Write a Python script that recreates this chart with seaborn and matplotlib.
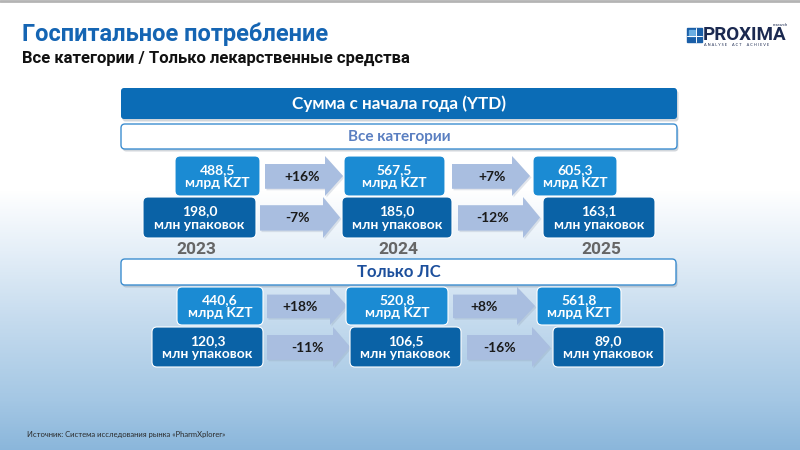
import numpy as np
import matplotlib
matplotlib.use("Agg")
import matplotlib.pyplot as plt
from matplotlib.patches import FancyBboxPatch, Polygon, Rectangle
import seaborn as sns

# ---------------- data ----------------
years = ["2023", "2024", "2025"]
all_kzt = [488.5, 567.5, 605.3]          # млрд KZT
all_packs = [198.0, 185.0, 163.1]        # млн упаковок
all_kzt_chg = ["+16%", "+7%"]
all_packs_chg = ["-7%", "-12%"]
ls_kzt = [440.6, 520.8, 561.8]
ls_packs = [120.3, 106.5, 89.0]
ls_kzt_chg = ["+18%", "+8%"]
ls_packs_chg = ["-11%", "-16%"]

title = "Госпитальное потребление"
subtitle = "Все категории / Только лекарственные средства"
banner = "Сумма с начала года (YTD)"
section_all = "Все категории"
section_ls = "Только ЛС"
unit_kzt = "млрд KZT"
unit_packs = "млн упаковок"
source = "Источник: Система исследования рынка «PharmXplorer»"

# ---------------- layout (pixels) ----------------
row_boxes = [
    [(175, 260), (344, 445), (533, 617)],
    [(143, 256), (342, 452), (543, 655)],
    [(177, 263), (346, 448), (537, 621)],
    [(152, 263), (350, 461), (553, 664)],
]
row_y = [(156, 196), (197, 238), (287, 325), (327, 367)]
# arrows: x0, xbase, tip, label_x
row_arrows = [
    [(265, 325, 343, 302), (452, 512, 530, 492)],
    [(260, 323, 340, 298), (458, 523, 540, 493)],
    [(267, 330, 347, 300), (453, 517, 535, 484)],
    [(267, 333, 350, 307), (467, 532, 550, 500)],
]
year_x = [196, 398, 601]

KZT_COL = "#1b8bd3"
PACK_COL = "#0a62a6"
ARROW_COL = "#a9bee0"
BANNER_COL = "#0b6cb6"

sns.set_theme(style="white")
NARROW = ["Liberation Sans Narrow", "Roboto", "DejaVu Sans"]
BOXF = ["Lato", "Roboto", "DejaVu Sans"]
plt.rcParams["font.family"] = BOXF

fig = plt.figure(figsize=(8, 4.5), dpi=100)
ax = fig.add_axes([0, 0, 1, 1])
ax.set_xlim(0, 800)
ax.set_ylim(450, 0)
ax.axis("off")

# background gradient
stops_y = [0, 190, 250, 320, 400, 450]
stops_c = ["#ffffff", "#ffffff", "#e5eff8", "#c5dbee", "#a4c7e4", "#8ab6db"]
rgb = np.array([matplotlib.colors.to_rgb(c) for c in stops_c])
yy = np.arange(450)
grad = np.stack([np.interp(yy, stops_y, rgb[:, k]) for k in range(3)], axis=1)
img = np.repeat(grad[:, None, :], 2, axis=1)
ax.imshow(img, extent=[0, 800, 450, 0], aspect="auto", zorder=0)
ax.plot([0, 800], [1, 1], color="#b4b4b4", lw=2, zorder=1)

# header
ax.text(22, 34, title, fontsize=17, fontweight="bold", color="#1565b3",
        family=NARROW, va="center", ha="left")
ax.text(22, 58, subtitle, fontsize=12, fontweight="bold", color="#111111",
        family=NARROW, va="center", ha="left")

# logo
ax.add_patch(Rectangle((687, 28), 15, 14, color="#1a5fa8", zorder=3))
ax.add_patch(Rectangle((688.5, 29.5), 6, 6, color="#6aaee2", zorder=4))
ax.plot([695.5, 695.5], [28, 42], color="white", lw=0.7, zorder=5)
ax.plot([687, 702], [35.5, 35.5], color="white", lw=0.7, zorder=5)
ax.text(703, 35.5, "PROXIMA", fontsize=13.5, fontweight="bold", color="#1b2950",
        family=NARROW, va="center", ha="left")
ax.text(788, 24.5, "research", fontsize=3, color="#1b2950", va="center", ha="right")
ax.text(737, 45.5, "A N A L Y S E     A C T     A C H I E V E", fontsize=2.8,
        color="#1b2950", va="center", ha="center")


def rbox(x0, x1, y0, y1, fc, ec="none", lw=0, r=4, z=3, shadow=False):
    if shadow:
        ax.add_patch(FancyBboxPatch((x0 + 1.5, y0 + 2.5), x1 - x0, y1 - y0,
                                    boxstyle=f"round,pad=0,rounding_size={r}",
                                    fc="#7d8a99", ec="none", alpha=0.35, zorder=z - 0.5))
    ax.add_patch(FancyBboxPatch((x0, y0), x1 - x0, y1 - y0,
                                boxstyle=f"round,pad=0,rounding_size={r}",
                                fc=fc, ec=ec, lw=lw, zorder=z))


# banners
rbox(121, 677, 88, 119, BANNER_COL, r=3, shadow=True)
ax.text(399, 103.5, banner, fontsize=12.3, fontweight="bold", color="white",
        va="center", ha="center", zorder=6)
rbox(121, 677, 124, 149, "white", ec="#3d8ed0", lw=1.0, r=4, shadow=True)
ax.text(399, 136.5, section_all, fontsize=11, fontweight="bold", color="#5a7fc1",
        va="center", ha="center", zorder=6)
rbox(121, 676, 259, 285, "white", ec="#3d8ed0", lw=1.0, r=4, shadow=True)
ax.text(399, 272, section_ls, fontsize=12, fontweight="bold", color="#1c4f9c",
        va="center", ha="center", zorder=6)


def fmt(v):
    return f"{v:.1f}".replace(".", ",")


rows = [
    (all_kzt, unit_kzt, all_kzt_chg, KZT_COL),
    (all_packs, unit_packs, all_packs_chg, PACK_COL),
    (ls_kzt, unit_kzt, ls_kzt_chg, KZT_COL),
    (ls_packs, unit_packs, ls_packs_chg, PACK_COL),
]

for i, (vals, unit, chg, col) in enumerate(rows):
    y0, y1 = row_y[i]
    h = y1 - y0
    bt, bb = y0 + 0.2 * h, y1 - 0.18 * h
    z = 3 + i
    for j, (ax0, xb, tip, lx) in enumerate(row_arrows[i]):
        pts = [(ax0, bt), (xb, bt), (xb, y0), (tip, (y0 + y1) / 2), (xb, y1),
               (xb, bb), (ax0, bb)]
        ax.add_patch(Polygon([(p[0] + 1.5, p[1] + 1.5) for p in pts], closed=True,
                             fc="#8c9bb0", ec="none", alpha=0.25, zorder=1.5))
        ax.add_patch(Polygon(pts, closed=True, fc=ARROW_COL, ec="none", zorder=2))
        ax.text(lx, (bt + bb) / 2 + 0.5, chg[j], fontsize=10, fontweight="bold",
                color="#1a1a1a", va="center", ha="center", zorder=2.5)
    for j, (bx0, bx1) in enumerate(row_boxes[i]):
        rbox(bx0, bx1, y0, y1, col, ec="white", lw=0.8, r=5, z=z)
        ax.text((bx0 + bx1) / 2, (y0 + y1) / 2 + 0.5, f"{fmt(vals[j])}\n{unit}",
                fontsize=10, fontweight="bold", color="white", va="center",
                ha="center", linespacing=1.15, zorder=z + 0.5)

for k, yr in enumerate(years):
    ax.text(year_x[k], 249, yr, fontsize=12.5, fontweight="bold", color="#666666",
            family=["Roboto", "DejaVu Sans"], va="center", ha="center", zorder=6)

ax.text(27, 434, source, fontsize=5.5, color="#2a2a2a", va="center", ha="left")

fig.savefig("out.png", dpi=100)
